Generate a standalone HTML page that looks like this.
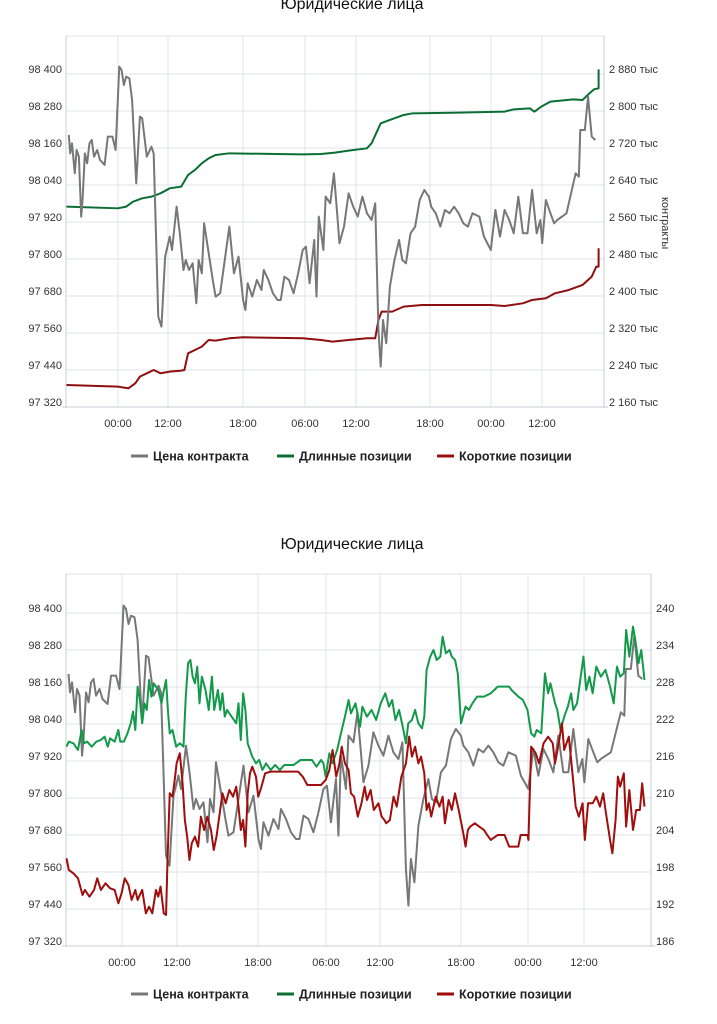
<!DOCTYPE html>
<html><head><meta charset="utf-8"><style>
html,body{margin:0;padding:0;background:#fff;}
svg{display:block;font-family:"Liberation Sans","DejaVu Sans",sans-serif;}
.g{stroke:#dfe3ea;stroke-width:1;fill:none}
.ax{stroke:#c8ced8;stroke-width:1;fill:none}
.t{font-size:11px;fill:#333}
.s{fill:none;stroke-width:2;vector-effect:non-scaling-stroke;stroke-linejoin:round}
.lg{font-size:12.5px;font-weight:bold;fill:#222}
</style></head><body>
<svg width="717" height="1024" viewBox="0 0 717 1024">
<text x="352" y="9" text-anchor="middle" font-size="16" fill="#111">Юридические лица</text>
<g class="g">
<line x1="66" y1="36" x2="605" y2="36"/>
<line x1="66" y1="74" x2="605" y2="74"/><line x1="66" y1="111" x2="605" y2="111"/><line x1="66" y1="148" x2="605" y2="148"/><line x1="66" y1="185" x2="605" y2="185"/><line x1="66" y1="222" x2="605" y2="222"/><line x1="66" y1="259" x2="605" y2="259"/><line x1="66" y1="296" x2="605" y2="296"/><line x1="66" y1="333" x2="605" y2="333"/><line x1="66" y1="370" x2="605" y2="370"/>
<line x1="118" y1="36" x2="118" y2="407"/><line x1="168" y1="36" x2="168" y2="407"/><line x1="243" y1="36" x2="243" y2="407"/><line x1="305" y1="36" x2="305" y2="407"/><line x1="356" y1="36" x2="356" y2="407"/><line x1="430" y1="36" x2="430" y2="407"/><line x1="491" y1="36" x2="491" y2="407"/><line x1="542" y1="36" x2="542" y2="407"/>
</g>
<g class="ax"><line x1="66" y1="36" x2="66" y2="408"/><line x1="604" y1="36" x2="604" y2="408"/><line x1="62" y1="407" x2="608" y2="407"/></g>
<g class="t" text-anchor="end">
<text x="62" y="73">98 400</text><text x="62" y="110">98 280</text><text x="62" y="147">98 160</text><text x="62" y="184">98 040</text><text x="62" y="221">97 920</text><text x="62" y="258">97 800</text><text x="62" y="295">97 680</text><text x="62" y="332">97 560</text><text x="62" y="369">97 440</text><text x="62" y="406">97 320</text>
</g>
<g class="t">
<text x="609" y="73">2 880 тыс</text><text x="609" y="110">2 800 тыс</text><text x="609" y="147">2 720 тыс</text><text x="609" y="184">2 640 тыс</text><text x="609" y="221">2 560 тыс</text><text x="609" y="258">2 480 тыс</text><text x="609" y="295">2 400 тыс</text><text x="609" y="332">2 320 тыс</text><text x="609" y="369">2 240 тыс</text><text x="609" y="406">2 160 тыс</text>
</g>
<text class="t" transform="translate(662,197) rotate(90)" font-size="10">контракты</text>
<g class="t" text-anchor="middle">
<text x="118" y="427">00:00</text><text x="168" y="427">12:00</text><text x="243" y="427">18:00</text><text x="305" y="427">06:00</text><text x="356" y="427">12:00</text><text x="430" y="427">18:00</text><text x="491" y="427">00:00</text><text x="542" y="427">12:00</text>
</g>
<g transform="scale(0.4587,0.3333)">
<polyline class="s" stroke="#0b6e35" points="145,620 257,625 275,620 290,605 310,595 330,590 350,580 370,565 395,560 410,525 425,510 440,490 455,475 470,465 500,460 600,462 660,463 700,462 730,458 760,452 800,445 810,430 820,400 830,370 850,360 880,345 900,340 1000,338 1100,335 1120,328 1155,325 1165,335 1180,320 1200,305 1250,298 1270,300 1285,280 1295,268 1305,265 1305,208"/>
<polyline class="s" stroke="#8e0f0f" points="145,1155 257,1160 280,1165 295,1150 305,1130 320,1120 335,1110 350,1120 370,1115 395,1112 402,1110 410,1060 425,1050 440,1040 455,1020 470,1022 500,1015 530,1012 660,1015 700,1020 725,1025 760,1020 800,1015 818,1015 825,960 832,935 855,935 880,920 920,915 1070,915 1100,918 1140,910 1160,900 1190,895 1210,880 1240,870 1270,855 1290,830 1300,800 1305,800 1305,745"/>
<polyline id="gp" class="s" stroke="#777" points="150,405 153,460 157,430 163,520 167,450 172,470 177,650 180,600 185,460 190,490 195,430 200,420 205,470 212,450 218,480 228,495 235,410 245,410 252,450 260,200 265,210 270,255 275,230 282,235 288,300 297,550 305,350 310,355 320,470 330,440 335,460 340,700 345,950 352,980 360,770 370,710 375,750 385,620 392,700 400,810 405,780 412,810 420,790 428,910 433,780 440,820 445,670 455,760 465,850 470,890 480,880 490,780 500,680 510,820 520,770 530,900 535,930 540,850 550,890 560,840 570,870 575,810 585,840 595,880 605,900 612,900 620,830 630,840 640,880 650,820 660,750 667,740 675,850 685,720 690,890 695,650 705,750 710,590 720,610 728,520 735,640 740,730 750,680 760,580 770,620 780,650 790,590 800,640 810,660 818,610 825,990 830,1100 835,960 842,1030 850,860 860,780 870,720 877,780 885,790 895,700 905,680 915,600 925,570 935,590 940,620 950,640 960,680 970,630 980,640 990,620 1000,640 1010,670 1020,680 1030,640 1045,650 1055,710 1070,750 1080,630 1090,710 1100,630 1110,660 1120,700 1130,590 1140,700 1150,700 1160,570 1170,700 1178,660 1182,730 1190,600 1200,640 1208,670 1215,660 1225,650 1235,640 1245,580 1255,520 1262,530 1265,390 1275,390 1282,290 1290,410 1298,420"/>
</g>
<g transform="translate(131,456)"><line x1="0" y1="0" x2="17" y2="0" stroke="#777" stroke-width="3"/><text class="lg" x="22" y="4.5">Цена контракта</text></g>
<g transform="translate(277,456)"><line x1="0" y1="0" x2="17" y2="0" stroke="#0b6e35" stroke-width="3"/><text class="lg" x="22" y="4.5">Длинные позиции</text></g>
<g transform="translate(437,456)"><line x1="0" y1="0" x2="17" y2="0" stroke="#9b0d0d" stroke-width="3"/><text class="lg" x="22" y="4.5">Короткие позиции</text></g>

<text x="352" y="549" text-anchor="middle" font-size="16" fill="#111">Юридические лица</text>
<g class="g">
<line x1="66" y1="574" x2="651" y2="574"/>
<line x1="66" y1="613" x2="651" y2="613"/><line x1="66" y1="650" x2="651" y2="650"/><line x1="66" y1="687" x2="651" y2="687"/><line x1="66" y1="724" x2="651" y2="724"/><line x1="66" y1="761" x2="651" y2="761"/><line x1="66" y1="798" x2="651" y2="798"/><line x1="66" y1="835" x2="651" y2="835"/><line x1="66" y1="872" x2="651" y2="872"/><line x1="66" y1="909" x2="651" y2="909"/>
<line x1="122" y1="574" x2="122" y2="946"/><line x1="177" y1="574" x2="177" y2="946"/><line x1="258" y1="574" x2="258" y2="946"/><line x1="326" y1="574" x2="326" y2="946"/><line x1="380" y1="574" x2="380" y2="946"/><line x1="461" y1="574" x2="461" y2="946"/><line x1="528" y1="574" x2="528" y2="946"/><line x1="584" y1="574" x2="584" y2="946"/>
</g>
<g class="ax"><line x1="66" y1="574" x2="66" y2="947"/><line x1="651" y1="574" x2="651" y2="947"/><line x1="62" y1="946" x2="655" y2="946"/></g>
<g class="t" text-anchor="end">
<text x="62" y="612">98 400</text><text x="62" y="649">98 280</text><text x="62" y="686">98 160</text><text x="62" y="723">98 040</text><text x="62" y="760">97 920</text><text x="62" y="797">97 800</text><text x="62" y="834">97 680</text><text x="62" y="871">97 560</text><text x="62" y="908">97 440</text><text x="62" y="945">97 320</text>
</g>
<g class="t">
<text x="656" y="612">240</text><text x="656" y="649">234</text><text x="656" y="686">228</text><text x="656" y="723">222</text><text x="656" y="760">216</text><text x="656" y="797">210</text><text x="656" y="834">204</text><text x="656" y="871">198</text><text x="656" y="908">192</text><text x="656" y="945">186</text>
</g>
<g class="t" text-anchor="middle">
<text x="122" y="966">00:00</text><text x="177" y="966">12:00</text><text x="258" y="966">18:00</text><text x="326" y="966">06:00</text><text x="380" y="966">12:00</text><text x="461" y="966">18:00</text><text x="528" y="966">00:00</text><text x="584" y="966">12:00</text>
</g>
<g transform="translate(0,530) scale(0.4587,0.3333)">
<g transform="translate(-14,27) scale(1.0896,1)"><use href="#gp"/></g>
<polyline class="s" stroke="#13994a" points="145,650 150,635 160,640 165,650 170,660 178,600 183,640 190,635 200,650 210,635 220,630 228,620 235,650 240,625 250,635 258,600 262,635 270,635 278,610 285,580 290,545 295,600 300,470 305,510 310,580 315,520 320,540 325,450 330,500 335,460 345,480 352,520 356,490 362,450 366,540 370,610 376,600 384,650 392,640 400,650 405,500 410,400 415,390 420,440 425,460 430,410 435,520 440,440 448,480 455,540 462,440 467,540 475,480 480,540 485,490 490,560 495,540 505,560 515,580 520,520 525,630 530,490 535,540 540,640 545,660 550,680 558,700 565,690 572,720 580,700 590,720 600,705 610,720 620,705 640,705 655,690 680,690 690,710 700,690 705,700 710,740 718,670 725,700 735,660 745,600 752,560 760,510 765,550 775,520 785,590 790,530 800,560 810,540 820,570 830,520 840,490 848,530 855,510 862,570 870,540 878,590 885,640 890,580 898,570 905,540 912,580 920,595 925,560 930,420 938,380 945,360 952,390 960,380 965,320 972,370 980,360 985,380 992,390 998,430 1005,580 1015,530 1022,540 1030,520 1040,500 1055,500 1070,490 1085,470 1110,470 1115,480 1130,500 1140,510 1150,540 1158,610 1165,620 1170,600 1180,610 1188,430 1195,490 1200,460 1210,520 1215,540 1222,600 1230,560 1238,530 1245,490 1250,540 1258,520 1265,450 1272,380 1278,480 1285,440 1292,490 1300,410 1310,440 1320,420 1330,470 1338,520 1345,410 1352,440 1360,430 1365,300 1372,380 1380,290 1385,330 1392,400 1398,360 1405,450"/>
<polyline class="s" stroke="#a00d0d" points="145,985 150,1020 160,1030 170,1045 180,1095 185,1080 195,1100 205,1080 212,1045 220,1080 230,1060 240,1075 250,1080 258,1120 265,1090 272,1045 280,1065 287,1110 295,1080 300,1110 310,1080 318,1150 325,1130 332,1150 340,1080 345,1100 350,1070 357,1150 362,1155 365,1000 370,790 376,800 380,760 385,700 392,670 398,760 403,870 408,920 413,990 418,940 425,920 432,950 438,860 445,900 452,860 460,900 466,960 472,920 478,860 485,790 492,820 500,780 508,800 515,770 520,830 525,900 530,870 535,950 540,790 545,730 550,710 558,740 563,800 570,770 578,730 590,725 650,725 660,740 670,765 700,765 710,750 718,720 725,660 733,740 740,700 745,650 752,700 760,720 765,790 772,800 780,860 788,820 795,770 800,810 808,780 815,840 825,820 832,860 838,870 842,880 850,870 858,800 865,830 875,740 885,700 892,620 898,680 905,650 912,700 918,680 925,730 930,840 935,820 940,860 950,800 958,830 965,800 970,880 978,810 985,840 992,790 1000,840 1010,910 1015,950 1020,900 1025,890 1035,880 1045,890 1055,900 1062,915 1070,930 1085,915 1100,915 1110,950 1130,950 1135,915 1150,915 1152,930 1158,650 1168,670 1175,700 1185,640 1195,620 1205,640 1210,700 1218,640 1225,580 1230,660 1240,620 1248,730 1255,830 1262,860 1270,820 1275,930 1282,820 1292,820 1300,800 1308,830 1315,790 1320,840 1330,930 1335,970 1342,870 1347,740 1352,770 1360,730 1365,890 1372,780 1380,900 1387,840 1395,840 1400,760 1405,830"/>
</g>
<g transform="translate(131,994)"><line x1="0" y1="0" x2="17" y2="0" stroke="#777" stroke-width="3"/><text class="lg" x="22" y="4.5">Цена контракта</text></g>
<g transform="translate(277,994)"><line x1="0" y1="0" x2="17" y2="0" stroke="#0b6e35" stroke-width="3"/><text class="lg" x="22" y="4.5">Длинные позиции</text></g>
<g transform="translate(437,994)"><line x1="0" y1="0" x2="17" y2="0" stroke="#9b0d0d" stroke-width="3"/><text class="lg" x="22" y="4.5">Короткие позиции</text></g>
</svg>
</body></html>
